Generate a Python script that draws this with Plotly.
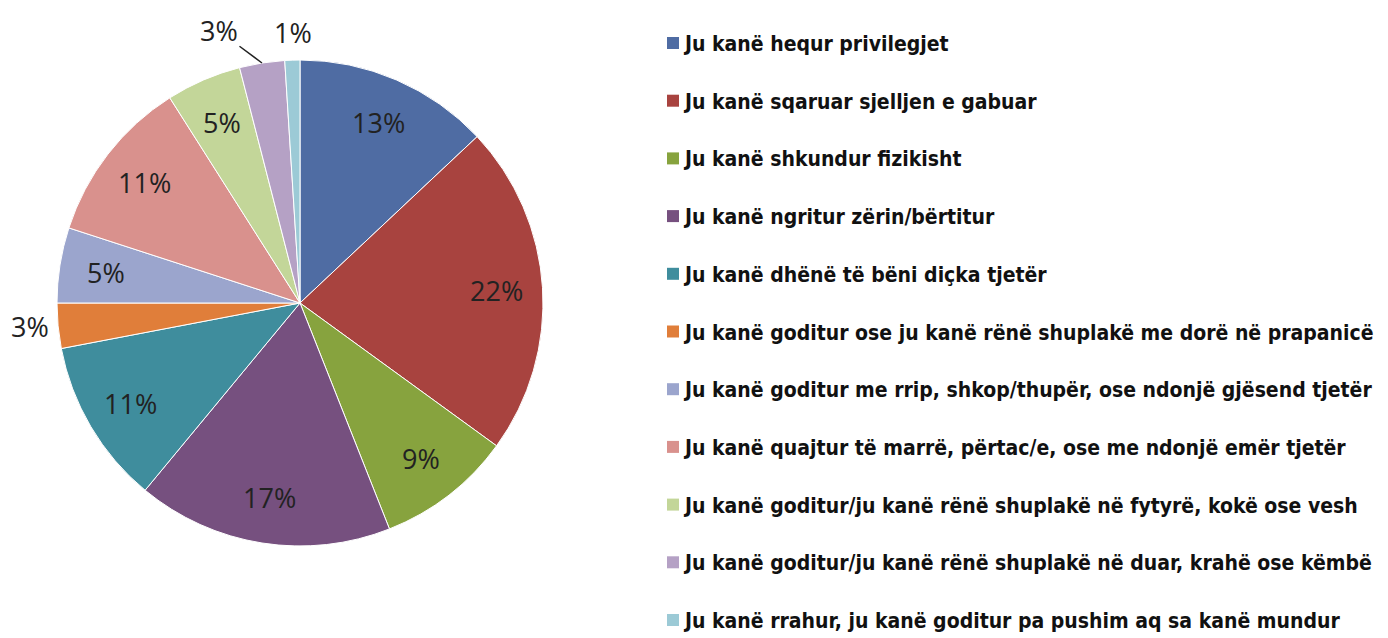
import math
import plotly.graph_objects as go

labels = [
    "Ju kanë hequr privilegjet",
    "Ju kanë sqaruar sjelljen e gabuar",
    "Ju kanë shkundur fizikisht",
    "Ju kanë ngritur zërin/bërtitur",
    "Ju kanë dhënë të bëni diçka tjetër",
    "Ju kanë goditur ose ju kanë rënë shuplakë me dorë në prapanicë",
    "Ju kanë goditur me rrip, shkop/thupër, ose ndonjë gjësend tjetër",
    "Ju kanë quajtur të marrë, përtac/e, ose me ndonjë emër tjetër",
    "Ju kanë goditur/ju kanë rënë shuplakë në fytyrë, kokë ose vesh",
    "Ju kanë goditur/ju kanë rënë shuplakë në duar, krahë ose këmbë",
    "Ju kanë rrahur, ju kanë goditur pa pushim aq sa kanë mundur",
]
values = [13, 22, 9, 17, 11, 3, 5, 11, 5, 3, 1]
colors = ["#4F6CA3", "#A8433F", "#87A33E", "#76507F", "#3F8D9D", "#E07E3A",
          "#9BA5CD", "#D9918D", "#C3D699", "#B5A1C5", "#9CCAD6"]
# label placement style per slice: "in" = inside (Excel best-fit radius), "out" = outside
label_mode = ["in", "in", "in", "in", "in", "out", "in", "in", "in", "lead", "top"]

W, H = 1388, 638
OFF = 8  # page body margin
cx, cy, r = 300 - OFF, 303 - OFF, 243
LABEL_FONT = dict(family="Open Sans, DejaVu Sans, sans-serif", size=27, color="#222222")

textpos = ["outside" if m == "out" else "none" for m in label_mode]

fig = go.Figure()
fig.add_trace(go.Pie(
    labels=labels, values=values, sort=False, direction="clockwise", rotation=0,
    marker=dict(colors=colors, line=dict(color="#ffffff", width=1)),
    texttemplate="%{value}%", textposition=textpos,
    automargin=False,
    textfont=LABEL_FONT, outsidetextfont=LABEL_FONT,
    domain=dict(x=[(cx - r) / W, (cx + r) / W], y=[1 - (cy + r) / H, 1 - (cy - r) / H]),
    showlegend=False, hoverinfo="label+percent",
))

# slice mid-angles derived from the values
total = sum(values)
cum = 0
for v, mode in zip(values, label_mode):
    mid = (cum + v / 2) / total * 2 * math.pi
    cum += v
    if mode == "in":
        rho = 0.81 * r
        px, py = cx + rho * math.sin(mid), cy - rho * math.cos(mid)
        fig.add_annotation(text=f"{v}%", x=px / W, y=1 - py / H, xref="paper", yref="paper",
                           xanchor="center", yanchor="middle",
                           showarrow=False, font=LABEL_FONT)
    elif mode == "lead":
        px, py = cx + r * math.sin(mid), cy - r * math.cos(mid)
        fig.add_annotation(text=f"{v}%", x=px / W, y=1 - py / H, xref="paper", yref="paper",
                           showarrow=True, arrowhead=0, arrowwidth=1.5, arrowcolor="#222222",
                           ax=-43, ay=-32, standoff=0, font=LABEL_FONT)
    elif mode == "top":
        px, py = cx + r * math.sin(mid), cy - r * math.cos(mid)
        fig.add_annotation(text=f"{v}%", x=px / W, y=1 - py / H, xref="paper", yref="paper",
                           xanchor="center", yanchor="middle",
                           showarrow=False, xshift=1, yshift=28, font=LABEL_FONT)

y0, dy = 43 - OFF, 57.7
for i, (lab, col) in enumerate(zip(labels, colors)):
    yc = y0 + i * dy
    fig.add_shape(type="rect", xref="paper", yref="paper",
                  x0=(667 - OFF) / W, x1=(679 - OFF) / W,
                  y0=1 - (yc + 6) / H, y1=1 - (yc - 6) / H,
                  fillcolor=col, line=dict(width=0))
    fig.add_annotation(text="<b>" + lab + "</b>", xref="paper", yref="paper",
                       x=(681 - OFF) / W, y=1 - (yc + 1) / H, xanchor="left", yanchor="middle",
                       showarrow=False,
                       font=dict(family="DejaVu Sans Condensed, DejaVu Sans, sans-serif",
                                 size=21, color="#111111"))

fig.update_layout(width=W, height=H,
                  margin=dict(l=0, r=0, t=0, b=0, pad=0, autoexpand=False),
                  paper_bgcolor="white", plot_bgcolor="white")
fig.write_html("out.html")
